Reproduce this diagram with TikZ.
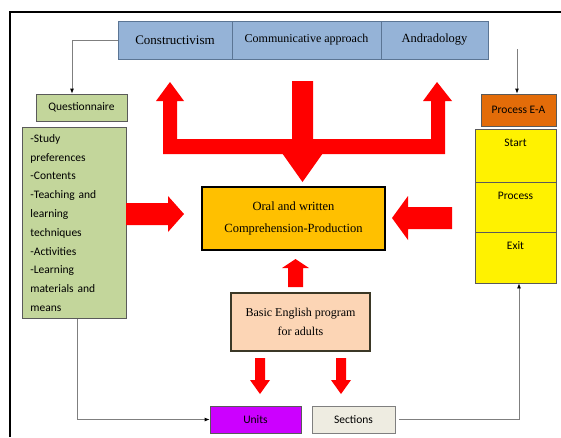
\documentclass[tikz,border=0pt]{standalone}
\usepackage{fontspec}
\setmainfont{Liberation Serif}
\newfontfamily\calibri{Carlito}
\usetikzlibrary{arrows.meta}

\definecolor{topblue}{HTML}{95B3D7}
\definecolor{blueline}{HTML}{5B7594}
\definecolor{qgreen}{HTML}{C3D69B}
\definecolor{boxline}{HTML}{5A5A5A}
\definecolor{gold}{HTML}{FFC000}
\definecolor{peach}{HTML}{FCD5B5}
\definecolor{darkbrown}{HTML}{3B3826}
\definecolor{purp}{HTML}{CC00FF}
\definecolor{beige}{HTML}{EEECE1}
\definecolor{burnt}{HTML}{E36C09}
\definecolor{linkgray}{HTML}{7F7F7F}

\begin{document}
\begin{tikzpicture}[x=1pt,y=-1pt,
    box/.style={draw=boxline,line width=0.8pt,inner sep=0pt,minimum height=27pt},
    sanstext/.style={font=\calibri\fontsize{11.5}{14}\selectfont},
    link/.style={draw=linkgray,line width=0.8pt,-{Latex[length=5pt,width=4pt,color=black]}},
    bigred/.style={fill=red}]
  \useasboundingbox (0,0) rectangle (561,437);
  % frame
  \draw[line width=2pt] (10,437) -- (10,12) -- (561,12);

  % approaches
  \node[box,fill=topblue,draw=blueline,minimum width=114pt,minimum height=38pt,font=\fontsize{13}{15}\selectfont] (constr) at (175,40) {Constructivism};
  \node[box,fill=topblue,draw=blueline,minimum width=149pt,minimum height=38pt,font=\fontsize{12}{15}\selectfont] (commu) at (306.5,40) {Communicative approach};
  \node[box,fill=topblue,draw=blueline,minimum width=107pt,minimum height=38pt,font=\fontsize{12.5}{15}\selectfont] (andra) at (434.5,40) {Andradology};

  % left column
  \node[box,fill=qgreen,minimum width=91pt,sanstext] (quest) at (81.5,107.5) {Questionnaire};
  \node[box,fill=qgreen,anchor=north west,text width=88pt,align=left,inner xsep=8pt,inner ysep=7pt,font=\calibri\fontsize{11.5}{18.8}\selectfont] (topics) at (22,127)
    {-Study\\preferences\\-Contents\\-Teaching and\\learning\\techniques\\-Activities\\-Learning\\materials and\\means};

  % centre
  \node[box,fill=gold,draw=black,line width=2.5pt,minimum width=183pt,minimum height=63pt,align=center,font=\fontsize{12.5}{21.5}\selectfont] (target) at (293.5,218.5) {Oral and written\\Comprehension-Production};
  \node[box,fill=peach,draw=darkbrown,line width=2pt,minimum width=139pt,minimum height=58pt,align=center,font=\fontsize{12}{19}\selectfont] (program) at (300.5,322) {Basic English program\\for adults};
  \node[box,fill=purp,minimum width=91pt,sanstext] (units) at (255.5,419.5) {Units};
  \node[box,fill=beige,draw=linkgray,minimum width=83pt,sanstext] (sections) at (353.5,419.5) {Sections};

  % right column
  \node[box,fill=burnt,minimum width=75pt,minimum height=32pt,sanstext] (procea) at (518.5,110) {Process E-A};
  \foreach \name/\txt/\y/\h in {start/Start/155.5/53, proc/Process/207/50, exit/Exit/257.5/51}
    \node[box,fill=yellow,minimum width=81pt,minimum height=\h pt,
      label={[sanstext,inner sep=0pt,label distance=-18pt]north:\txt}] (\name) at (515.5,\y) {};

  % connectors
  \coordinate (andtail) at (517,49);
  \draw[link] (constr.west) -| ([xshift=-9.5pt]quest.north);
  \draw[link] (andtail) -- (andtail |- procea.north);
  \draw[link] ([xshift=3pt]topics.south) |- (units.west);
  \draw[link,shorten <=4pt] (sections.east) -| ([xshift=3.5pt]exit.south);

  % red block arrows
  \fill[bigred] (170,82) -- (184,101) -- (177,101) -- (177,139) -- (292,139) -- (292,81)
    -- (313,81) -- (313,139) -- (431,139) -- (431,101) -- (423,101) -- (437,82)
    -- (452,101) -- (445,101) -- (445,154) -- (163,154) -- (163,101) -- (156,101) -- cycle;
  \fill[bigred] (282,153) -- (323,153) -- (302.5,182) -- cycle;
  \fill[bigred] (126,203) -- (168,203) -- (168,196) -- (184,214) -- (168,232) -- (168,225) -- (126,225) -- cycle;
  \fill[bigred] (452,207) -- (408,207) -- (408,196) -- (392,218) -- (408,240) -- (408,229) -- (452,229) -- cycle;
  \fill[bigred] (288,287) -- (288,268) -- (282,268) -- (295.5,259) -- (309,268) -- (303,268) -- (303,287) -- cycle;
  \foreach \x in {260,341}
    \fill[bigred] (\x-5,358) -- (\x+5,358) -- (\x+5,380) -- (\x+10,380) -- (\x,394) -- (\x-10,380) -- (\x-5,380) -- cycle;
\end{tikzpicture}
\end{document}
